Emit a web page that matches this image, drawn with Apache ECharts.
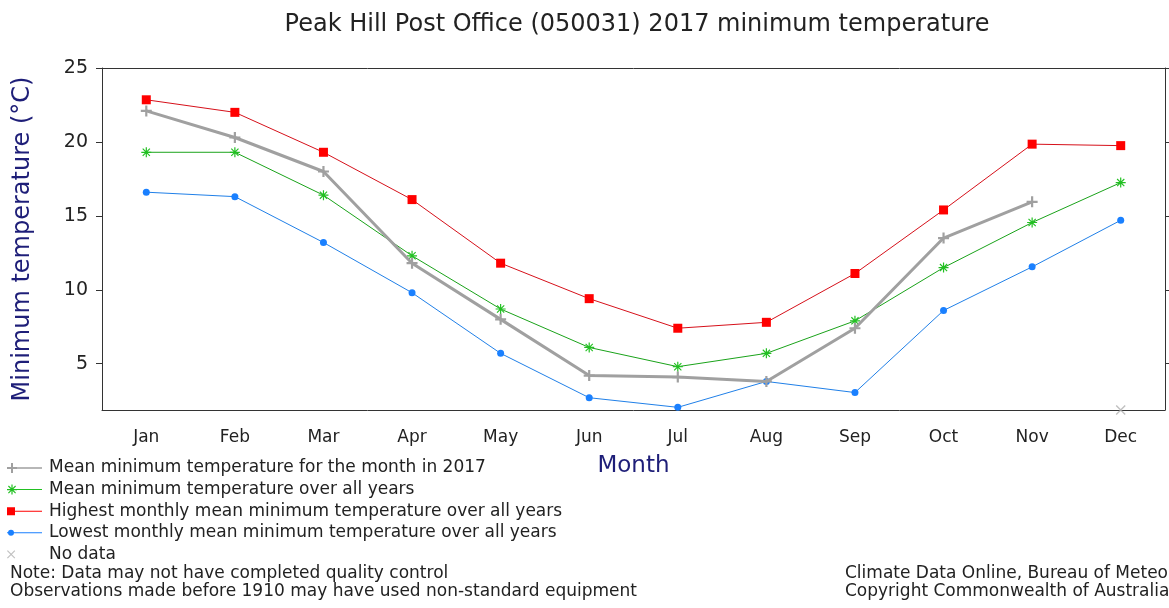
<!DOCTYPE html>
<html>
<head>
<meta charset="utf-8">
<script src="https://cdn.jsdelivr.net/npm/echarts@6/dist/echarts.min.js"></script>
<style>
  html, body { margin: 0; padding: 0; background: #fff; }
  #chart { width: 1169px; height: 608px; }
</style>
</head>
<body>
<div id="chart"></div>
<script>
const months = ["Jan", "Feb", "Mar", "Apr", "May", "Jun", "Jul", "Aug", "Sep", "Oct", "Nov", "Dec"];
const yTicks = [5, 10, 15, 20, 25];
const Y_MIN = 1.87;
const Y_MAX = 25;

const mean2017 = [22.1, 20.3, 18.0, 11.8, 8.0, 4.2, 4.1, 3.8, 7.4, 13.5, 15.95, null];
const meanAll = [19.3, 19.3, 16.4, 12.3, 8.7, 6.1, 4.8, 5.7, 7.9, 11.5, 14.55, 17.25];
const highest = [22.85, 22.0, 19.3, 16.1, 11.8, 9.4, 7.4, 7.8, 11.1, 15.4, 19.85, 19.75];
const lowest = [16.6, 16.3, 13.2, 9.8, 5.7, 2.7, 2.05, 3.8, 3.05, 8.6, 11.55, 14.7];
const noData = [null, null, null, null, null, null, null, null, null, null, null, Y_MIN];

const names = [
  "Mean minimum temperature for the month in 2017",
  "Mean minimum temperature over all years",
  "Highest monthly mean minimum temperature over all years",
  "Lowest monthly mean minimum temperature over all years",
  "No data",
];

const FONT = "DejaVu Sans";
const NAVY = "#1e1e78";

// markers
const plusSym = "path://M4,0H6V10H4ZM0,4H10V6H0Z";
const starSym = "path://M0,4.4H10V5.6H0ZM4.4,0H5.6V10H4.4Z" +
  "M1.8,1L9,8.2L8.2,9L1,1.8ZM8.2,1L9,1.8L1.8,9L1,8.2Z";
const crossSym = "path://M1.8,1L9,8.2L8.2,9L1,1.8ZM8.2,1L9,1.8L1.8,9L1,8.2Z";

// legend icons: marker on the left end of a short line (35 x 10 box)
const iconPlus = "path://M0,4.2H35V5.8H0ZM4,0H6V10H4ZM0,4H10V6H0Z";
const iconStar = "path://M0,4.5H35V5.5H0ZM0,4.4H10V5.6H0ZM4.4,0H5.6V10H4.4Z" +
  "M1.8,1L9,8.2L8.2,9L1,1.8ZM8.2,1L9,1.8L1.8,9L1,8.2Z";
const iconSquare = "path://M0,4.5H35V5.5H0ZM0,1H8V9H0Z";
const iconCircle = "path://M0,4.5H35V5.5H0ZM1,5A3,3 0 1 1 7,5A3,3 0 1 1 1,5Z";
const iconCross = "path://M1.8,1L9,8.2L8.2,9L1,1.8ZM8.2,1L9,1.8L1.8,9L1,8.2ZM34.9,4.9H35V5H34.9Z";

const axisLineStyle = { color: "#333", width: 1 };

const chart = echarts.init(document.getElementById("chart"), null, { renderer: "canvas" });

chart.setOption({
  animation: false,
  backgroundColor: "#fff",
  title: {
    text: "Peak Hill Post Office (050031) 2017 minimum temperature",
    left: 632,
    textAlign: "center",
    top: 8,
    textStyle: { fontFamily: FONT, fontSize: 24, fontWeight: "normal", color: "#222" },
  },
  grid: { left: 102, right: 4, top: 68, bottom: 198 },
  legend: {
    orient: "vertical",
    left: 7,
    top: 459,
    itemWidth: 35,
    itemHeight: 10,
    itemGap: 3.6,
    padding: 0,
    selectedMode: false,
    itemStyle: { borderWidth: 0 },
    textStyle: { fontFamily: FONT, fontSize: 17, color: "#222", lineHeight: 18, padding: [0, 0, 0, 2] },
    data: [
      { name: names[0], icon: iconPlus },
      { name: names[1], icon: iconStar },
      { name: names[2], icon: iconSquare },
      { name: names[3], icon: iconCircle },
      { name: names[4], icon: iconCross },
    ],
  },
  xAxis: [
    {
      type: "category",
      data: months,
      position: "bottom",
      name: "Month",
      nameLocation: "middle",
      nameGap: 45,
      nameTextStyle: { fontFamily: FONT, fontSize: 23, color: NAVY },
      axisLine: { lineStyle: axisLineStyle },
      axisTick: { alignWithLabel: true, length: 6, lineStyle: axisLineStyle },
      axisLabel: { fontFamily: FONT, fontSize: 17, color: "#222", margin: 19 },
      splitLine: { show: false },
    },
    {
      type: "category",
      data: months,
      position: "top",
      axisLine: { lineStyle: axisLineStyle },
      axisTick: { alignWithLabel: true, length: 6, lineStyle: axisLineStyle },
      axisLabel: { show: false },
      splitLine: { show: false },
    },
  ],
  yAxis: [
    {
      type: "value",
      min: Y_MIN,
      max: Y_MAX,
      position: "left",
      name: "Minimum temperature (°C)",
      nameLocation: "middle",
      nameGap: 67,
      nameTextStyle: { fontFamily: FONT, fontSize: 24, color: NAVY },
      axisLine: { show: true, lineStyle: axisLineStyle },
      axisTick: { show: true, length: 6, customValues: yTicks, lineStyle: axisLineStyle },
      axisLabel: { fontFamily: FONT, fontSize: 19, color: "#222", margin: 14, customValues: yTicks },
      splitLine: { show: false },
    },
    {
      type: "value",
      min: Y_MIN,
      max: Y_MAX,
      position: "right",
      axisLine: { show: true, lineStyle: axisLineStyle },
      axisTick: { show: true, length: 6, customValues: yTicks, lineStyle: axisLineStyle },
      axisLabel: { show: false },
      splitLine: { show: false },
    },
  ],
  graphic: [
    {
      type: "text", left: 10, top: 565,
      style: { text: "Note: Data may not have completed quality control", font: "17px " + FONT, fill: "#222" },
    },
    {
      type: "text", left: 10, top: 583,
      style: { text: "Observations made before 1910 may have used non-standard equipment", font: "17px " + FONT, fill: "#222" },
    },
    {
      type: "text", left: 845, top: 565,
      style: { text: "Climate Data Online, Bureau of Meteorology", font: "17px " + FONT, fill: "#222" },
    },
    {
      type: "text", left: 845, top: 583,
      style: { text: "Copyright Commonwealth of Australia", font: "17px " + FONT, fill: "#222" },
    },
  ],
  series: [
    {
      name: names[1],
      type: "line",
      data: meanAll,
      symbol: starSym,
      symbolSize: 10,
      color: "#22b022",
      lineStyle: { color: "#1aa31a", width: 1 },
      itemStyle: { color: "#22c022", borderWidth: 0 },
      z: 3,
    },
    {
      name: names[2],
      type: "line",
      data: highest,
      symbol: "rect",
      symbolSize: 9,
      color: "#ff0000",
      lineStyle: { color: "#d6101a", width: 1 },
      itemStyle: { color: "#ff0000", borderWidth: 0 },
      z: 3,
    },
    {
      name: names[3],
      type: "line",
      data: lowest,
      symbol: "circle",
      symbolSize: 7,
      color: "#1a80ff",
      lineStyle: { color: "#2080e8", width: 1 },
      itemStyle: { color: "#1a80ff", borderWidth: 0 },
      z: 3,
    },
    {
      name: names[0],
      type: "line",
      data: mean2017,
      symbol: plusSym,
      symbolSize: 11,
      color: "#a0a0a0",
      lineStyle: { color: "#a0a0a0", width: 3 },
      itemStyle: { color: "#a0a0a0", borderWidth: 0 },
      z: 4,
    },
    {
      name: names[4],
      type: "scatter",
      data: noData,
      symbol: crossSym,
      symbolSize: 10,
      color: "#b0b0b0",
      itemStyle: { color: "#b0b0b0", borderWidth: 0 },
      clip: false,
      z: 5,
    },
  ],
});
</script>
</body>
</html>
